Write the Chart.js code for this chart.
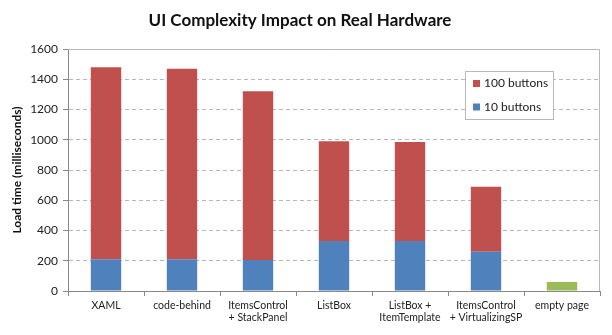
<!DOCTYPE html>
<html>
<head>
<meta charset="utf-8">
<script src="https://cdn.jsdelivr.net/npm/chart.js@4/dist/chart.umd.min.js"></script>
<style>
    html, body { margin: 0; padding: 0; background: #fff; }
    #wrap { width: 612px; height: 335px; }
</style>
</head>
<body>
<div id="wrap"><canvas id="uiChart" width="612" height="335"></canvas></div>
<script>
// Dados
const categories = [
    'XAML',
    'code-behind',
    ['ItemsControl', '+ StackPanel'],
    'ListBox',
    ['ListBox +', 'ItemTemplate'],
    ['ItemsControl', '+ VirtualizingSP'],
    'empty page'
];
const tenButtons = [210, 210, 205, 330, 330, 260, null];
const hundredButtons = [1270, 1260, 1115, 660, 655, 430, null];
const emptyPage = [null, null, null, null, null, null, 60];
const yTicks = [0, 200, 400, 600, 800, 1000, 1200, 1400, 1600];

const FONT = 'Lato, "Liberation Sans", sans-serif';
const RED = '#c0504d';
const BLUE = '#4f81bd';
const GREEN = '#9bbb59';

// Caixa da área do gráfico + legenda desenhadas à mão
const boxAndLegend = {
    id: 'boxAndLegend',
    afterDraw(chart) {
        const ctx = chart.ctx;
        const a = chart.chartArea;
        ctx.save();
        ctx.strokeStyle = '#b8b8b8';
        ctx.lineWidth = 1;
        ctx.beginPath();
        ctx.moveTo(a.left, a.top + 0.5);
        ctx.lineTo(a.right - 0.5, a.top + 0.5);
        ctx.lineTo(a.right - 0.5, a.bottom);
        ctx.stroke();

        // legenda
        const lx = 465, ly = 71, lw = 88, lh = 48;
        ctx.fillStyle = '#fff';
        ctx.fillRect(lx, ly, lw, lh);
        ctx.strokeStyle = '#b8b8b8';
        ctx.strokeRect(lx + 0.5, ly + 0.5, lw, lh);

        const items = [
            { text: '100 buttons', color: RED, y: 83.5 },
            { text: '10 buttons', color: BLUE, y: 107 }
        ];
        ctx.font = '12px ' + FONT;
        ctx.textBaseline = 'middle';
        ctx.textAlign = 'left';
        items.forEach(item => {
            ctx.fillStyle = item.color;
            ctx.fillRect(473, item.y - 3.5, 7, 7);
            ctx.fillStyle = '#222';
            ctx.fillText(item.text, 484, item.y);
        });
        ctx.restore();
    }
};

const ctx = document.querySelector('#uiChart').getContext('2d');

const uiChart = new Chart(ctx, {
    type: 'bar',
    data: {
        labels: categories,
        datasets: [
            { label: '10 buttons', data: tenButtons, backgroundColor: BLUE },
            { label: '100 buttons', data: hundredButtons, backgroundColor: RED },
            { label: 'empty page', data: emptyPage, backgroundColor: GREEN }
        ]
    },
    options: {
        responsive: false,
        animation: false,
        layout: { padding: { left: 0, right: 12, top: 0, bottom: 0 } },
        datasets: {
            bar: { barPercentage: 0.4, categoryPercentage: 1 }
        },
        plugins: {
            legend: { display: false },
            tooltip: { enabled: false },
            title: {
                display: true,
                text: 'UI Complexity Impact on Real Hardware',
                color: '#111',
                font: { family: FONT, size: 17, weight: 'bold' },
                padding: { top: 10, bottom: 18.6 }
            }
        },
        scales: {
            x: {
                stacked: true,
                grid: {
                    offset: true,
                    drawOnChartArea: false,
                    drawTicks: true,
                    tickLength: 5,
                    color: '#888'
                },
                border: { color: '#888' },
                ticks: {
                    color: '#222',
                    font: { family: FONT, size: 10.5 },
                    padding: 3,
                    maxRotation: 0,
                    autoSkip: false
                },
                afterFit(scale) { scale.height = 44; }
            },
            y: {
                stacked: true,
                min: 0,
                max: 1600,
                afterBuildTicks(scale) {
                    scale.ticks = yTicks.map(v => ({ value: v }));
                },
                grid: {
                    color: '#b8b8b8',
                    tickLength: 5,
                    tickColor: '#888'
                },
                border: { color: '#888', dash: [4, 3] },
                ticks: {
                    color: '#222',
                    font: { family: FONT, size: 12 },
                    padding: 5,
                    callback: value => String(value)
                },
                title: {
                    display: true,
                    text: 'Load time (milliseconds)',
                    color: '#111',
                    font: { family: FONT, size: 12, weight: 'bold' },
                    padding: { top: 10, bottom: 0 }
                },
                afterFit(scale) { scale.width = 68; }
            }
        }
    },
    plugins: [boxAndLegend]
});
</script>
</body>
</html>
